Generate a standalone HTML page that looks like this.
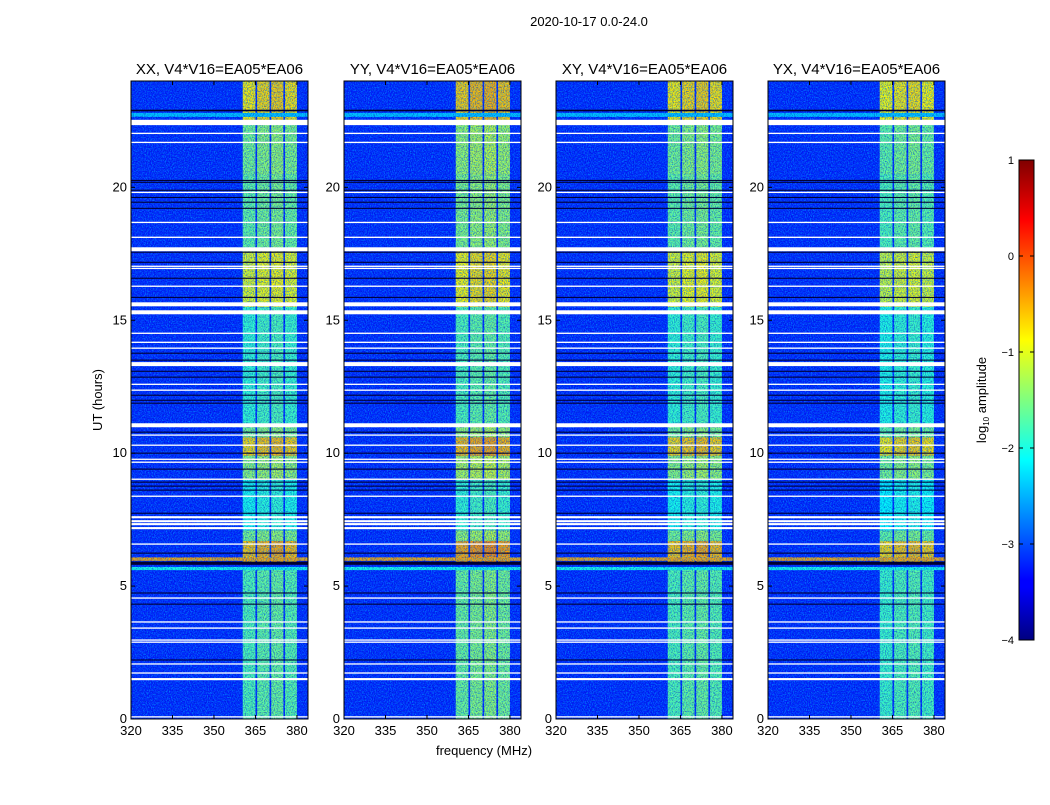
<!DOCTYPE html>
<html><head><meta charset="utf-8"><style>
body{margin:0;background:#fff;font-family:"Liberation Sans",sans-serif}
svg text{font-family:"Liberation Sans",sans-serif;fill:#000}
</style></head><body>
<svg id="fig" width="1050" height="800" xmlns="http://www.w3.org/2000/svg">
<defs>
<filter id="noise" x="0" y="0" width="100%" height="100%">
<feTurbulence type="fractalNoise" baseFrequency="0.95 0.7" numOctaves="1" seed="3"/>
<feColorMatrix type="matrix" values="0 0 0 0 0  0 0 0 0 0.45  0 0 0 0 1  0 0 0 -3 1.75"/>
</filter>
<filter id="noise2" x="0" y="0" width="100%" height="100%">
<feTurbulence type="fractalNoise" baseFrequency="0.9 0.8" numOctaves="1" seed="11"/>
<feColorMatrix type="matrix" values="0 0 0 0 0  0 0 0 0 0  0 0 0 0 0.5  0 0 0 -3 1.7"/>
</filter>
<linearGradient id="jet" x1="0" y1="1" x2="0" y2="0">
<stop offset="0" stop-color="#000080"/><stop offset="0.11" stop-color="#0000ff"/>
<stop offset="0.125" stop-color="#0000ff"/><stop offset="0.375" stop-color="#00ffff"/>
<stop offset="0.625" stop-color="#ffff00"/><stop offset="0.875" stop-color="#ff0000"/>
<stop offset="1" stop-color="#800000"/></linearGradient>
</defs>
<text x="589" y="26" font-size="13" text-anchor="middle">2020-10-17 0.0-24.0</text>
<text transform="translate(102,400) rotate(-90)" font-size="13" text-anchor="middle">UT (hours)</text>
<text x="484" y="755" font-size="13" text-anchor="middle">frequency (MHz)</text>
<g id="panels"></g>
<g>
<rect x="1019" y="160" width="15" height="480" fill="url(#jet)" stroke="#000" stroke-width="1"/>
</g>
<text transform="translate(986,400) rotate(-90)" font-size="13" text-anchor="middle">log<tspan font-size="8" dy="3">10</tspan><tspan dy="-3"> amplitude</tspan></text>
<g id="cbticks"></g>
</svg>
<script>
const titles=["XX, V4*V16=EA05*EA06","YY, V4*V16=EA05*EA06","XY, V4*V16=EA05*EA06","YX, V4*V16=EA05*EA06"];
const panelBoost=[0,0.15,0,-0.1];
const bandStarts=[360.4,365.6,370.7,375.7];
const bandEnds=[365.0,370.1,375.1,380.0];
const bandOffset=[0,0.1,0.15,0.05];
const periodStart=[0,5.9,6.7,7.1,9.0,9.9,10.6,11.1,15.5,17.6,20.5,22.5];
const periodEnd=[5.7,6.7,7.1,9.0,9.9,10.6,11.1,15.5,17.6,20.5,22.4,24];
const periodLevel=[-1.7,-0.6,-1.5,-2.0,-1.4,-0.7,-1.5,-1.85,-1.0,-1.6,-1.5,-0.8];
const stripStart=[5.95,5.6,22.65];
const stripEnd=[6.08,5.72,22.8];
const stripLevel=[-0.45,-2.0,-2.4];
const whiteRows=[22.44,22.03,21.69,19.81,18.68,18.12,17.67,17.03,16.95,16.28,15.60,15.30,14.51,14.17,13.95,13.35,12.59,12.37,11.05,10.68,10.30,9.77,9.66,9.02,8.38,7.59,7.44,7.33,7.18,6.58,4.55,3.65,3.42,2.97,2.89,2.07,1.73,1.50,0.08];
const whiteWidth=[0.2,0.05,0.05,0.05,0.05,0.05,0.15,0.05,0.05,0.05,0.15,0.15,0.05,0.05,0.05,0.15,0.05,0.05,0.15,0.05,0.05,0.05,0.05,0.05,0.05,0.08,0.08,0.08,0.08,0.05,0.05,0.05,0.05,0.05,0.05,0.05,0.05,0.08,0.05];
const blackRows=[22.89,20.26,20.19,19.89,19.62,19.44,19.21,17.56,17.18,16.58,15.86,13.76,13.50,13.08,12.86,12.18,11.99,11.88,10.79,10.00,9.40,8.91,8.76,8.61,7.74,6.24,5.86,4.74,4.32,2.22];
const blackWidth=[0.06,0.04,0.04,0.04,0.04,0.04,0.04,0.04,0.04,0.04,0.04,0.04,0.04,0.04,0.04,0.04,0.04,0.04,0.04,0.04,0.04,0.04,0.04,0.04,0.04,0.04,0.12,0.04,0.04,0.04];
const bgLevel=-3.2;
const xTicks=[320,335,350,365,380];
const yTicks=[0,5,10,15,20];
const cbTicks=[1,0,-1,-2,-3,-4];
const cbLabels=["1","0","\u22121","\u22122","\u22123","\u22124"];

const NS="http://www.w3.org/2000/svg";
const panelLeft=[131,344,556,768];
const PW=177, PT=81, PB=719, F0=320, F1=384, H1=24;
function jet(v){let t=(v+4)/5;t=Math.max(0,Math.min(1,t));
 const r=Math.max(0,Math.min(1,1.5-Math.abs(4*t-3))),g=Math.max(0,Math.min(1,1.5-Math.abs(4*t-2))),b=Math.max(0,Math.min(1,1.5-Math.abs(4*t-1)));
 return `rgb(${Math.round(r*255)},${Math.round(g*255)},${Math.round(b*255)})`;}
function mk(tag,attrs,parent){const e=document.createElementNS(NS,tag);for(const k in attrs)e.setAttribute(k,attrs[k]);parent.appendChild(e);return e;}
const root=document.getElementById('panels');
panelLeft.forEach((L,p)=>{
 const xs=f=>L+(f-F0)/(F1-F0)*PW;
 const ys=h=>PB-h/H1*(PB-PT);
 const g=mk('g',{},root);
 
 
 const bg=mk('rect',{x:L,y:PT,width:PW,height:PB-PT,fill:jet(bgLevel)},g);
 
 
 for(let i=0;i<periodStart.length;i++){for(let b=0;b<bandStarts.length;b++){
  const r=mk('rect',{x:xs(bandStarts[b]),y:ys(periodEnd[i]),width:xs(bandEnds[b])-xs(bandStarts[b]),height:ys(periodStart[i])-ys(periodEnd[i]),fill:jet(periodLevel[i]+bandOffset[b]+panelBoost[p])},g);
  
  
 }}
 for(let i=0;i<stripStart.length;i++){
  const r=mk('rect',{x:L,y:ys(stripEnd[i]),width:PW,height:ys(stripStart[i])-ys(stripEnd[i]),fill:jet(stripLevel[i])},g);
  
  
 }
 const nz=mk('rect',{x:L,y:PT,width:PW,height:PB-PT,fill:'#000',filter:'url(#noise)',opacity:0.6},g);
 
 
 const nz2=mk('rect',{x:L,y:PT,width:PW,height:PB-PT,fill:'#000',filter:'url(#noise2)',opacity:0.5},g);
 
 
 blackRows.forEach((h,i)=>{const r=mk('rect',{x:L,y:ys(h+blackWidth[i]/2),width:PW,height:Math.max(1,ys(h-blackWidth[i]/2)-ys(h+blackWidth[i]/2)),fill:'#000030'},g);
  
  });
 whiteRows.forEach((h,i)=>{const r=mk('rect',{x:L,y:ys(h+whiteWidth[i]/2),width:PW,height:Math.max(1.3,ys(h-whiteWidth[i]/2)-ys(h+whiteWidth[i]/2)),fill:'#fff'},g);
  
  });
 const fr=mk('rect',{x:L,y:PT,width:PW,height:PB-PT,fill:'none',stroke:'#000','stroke-width':1},g);
 
 
 const t=mk('text',{x:L+PW/2,y:74,'font-size':15,'text-anchor':'middle'},g);t.textContent=titles[p];
 
 
 xTicks.forEach(f=>{const x=xs(f);
  mk('line',{x1:x,x2:x,y1:PB,y2:PB-4,stroke:'#000'},g);mk('line',{x1:x,x2:x,y1:PT,y2:PT+4,stroke:'#000'},g);
  const tl=mk('text',{x:x,y:PB+16,'font-size':13,'text-anchor':'middle'},g);tl.textContent=f;
  
  });
 yTicks.forEach(h=>{const y=ys(h);
  mk('line',{x1:L,x2:L+4,y1:y,y2:y,stroke:'#000'},g);mk('line',{x1:L+PW,x2:L+PW-4,y1:y,y2:y,stroke:'#000'},g);
  const tl=mk('text',{x:L-4,y:y+4,'font-size':13,'text-anchor':'end'},g);tl.textContent=h;
  
  });
});
const cb=document.getElementById('cbticks');
cbTicks.forEach((v,i)=>{const y=640-(v+4)/5*480;
 mk('line',{x1:1019,x2:1023,y1:y,y2:y,stroke:'#000'},cb);mk('line',{x1:1034,x2:1030,y1:y,y2:y,stroke:'#000'},cb);
 const t=mk('text',{x:1014,y:y+4,'font-size':11,'text-anchor':'end'},cb);t.textContent=cbLabels[i];
 
 });
</script>
</body></html>
